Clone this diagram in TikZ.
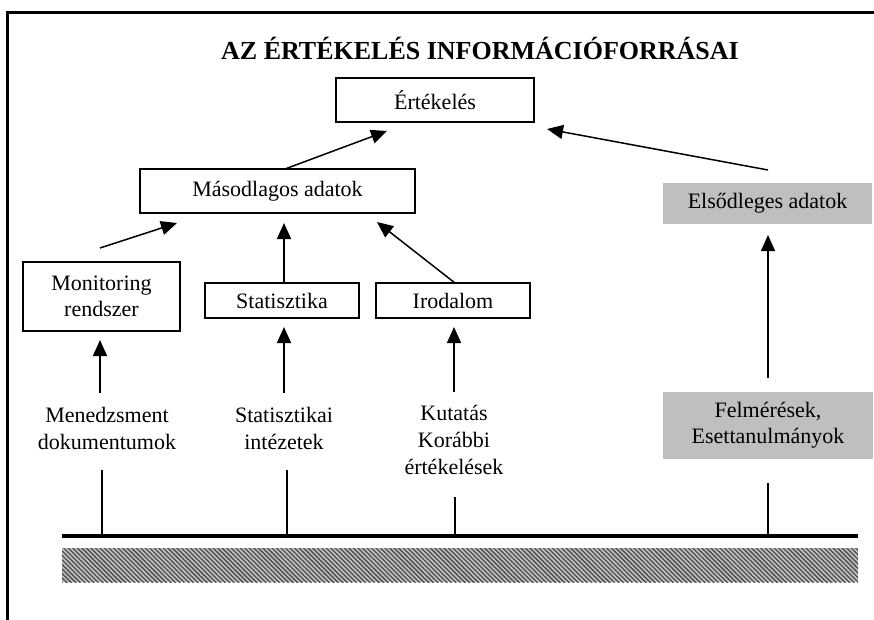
\documentclass[tikz,border=0pt]{standalone}
\usepackage{fontspec}
\setmainfont{Liberation Serif}
\usetikzlibrary{arrows.meta,patterns.meta}
\begin{document}
\begin{tikzpicture}[x=1pt,y=-1pt,
  box/.style={draw,line width=1.2pt,minimum height=44pt,font=\fontsize{22}{26}\selectfont,align=center,inner sep=0pt},
  shaded/.style={fill=black!25,minimum height=41pt,font=\fontsize{22}{26}\selectfont,align=center,inner sep=0pt},
  label/.style={font=\fontsize{22}{27}\selectfont,align=center,inner sep=0pt},
  arr/.style={line width=1.5pt,-{Triangle[length=16pt,width=14pt]}},
  stem/.style={line width=1.2pt}]
\useasboundingbox (0,0) rectangle (874,620);
% frame
\draw[line width=3pt] (7,620) -- (7,12.5) -- (874,12.5);
% title
\node[font=\fontsize{26}{30}\selectfont\bfseries] (title) at (480,48) {AZ ÉRTÉKELÉS INFORMÁCIÓFORRÁSAI};
% boxes
\node[box,minimum width=198pt] (ert) at (435,100) {Értékelés};
\node[box,minimum width=275pt] (mas) at (277.5,191) {Másodlagos adatok};
\node[shaded,minimum width=209pt] (elso) at (767.5,203.5) {Elsődleges adatok};
\node[box,minimum width=157pt,minimum height=69pt] (mon) at (101.5,296.5) {Monitoring\\rendszer};
\node[box,minimum width=154pt,minimum height=35pt] (stat) at (282,300.5) {Statisztika};
\node[box,minimum width=154pt,minimum height=35pt] (irod) at (453,300.5) {Irodalom};
\node[shaded,minimum width=210pt,minimum height=67pt] (felm) at (768,425.5) {Felmérések,\\Esettanulmányok};
% source labels
\node[label] (men) at (107,428) {Menedzsment\\dokumentumok};
\node[label] (sti) at (284,428) {Statisztikai\\intézetek};
\node[label] (kut) at (454,440) {Kutatás\\Korábbi\\értékelések};
% arrow end points
\coordinate (masT) at (285,169);  \coordinate (ertL) at (387,131);
\coordinate (elsoT) at (768,170); \coordinate (ertR) at (547,129);
\coordinate (monT) at (100,248);  \coordinate (masL) at (177,223);
\coordinate (statT) at (284,283); \coordinate (masM) at (284,223);
\coordinate (irodT) at (455,283); \coordinate (masR) at (377,222);
\coordinate (menT) at (100,393);  \coordinate (monB) at (100,340);
\coordinate (stiT) at (284,393);  \coordinate (statB) at (284,327);
\coordinate (kutT) at (454,392);  \coordinate (irodB) at (454,327);
\coordinate (felmT) at (768,378); \coordinate (elsoB) at (768,235);
% arrows
\draw[arr] (masT) -- (ertL);
\draw[arr] (elsoT) -- (ertR);
\draw[arr] (monT) -- (masL);
\draw[arr] (statT) -- (masM);
\draw[arr] (irodT) -- (masR);
\draw[arr] (menT) -- (monB);
\draw[arr] (stiT) -- (statB);
\draw[arr] (kutT) -- (irodB);
\draw[arr] (felmT) -- (elsoB);
% base line with stems
\coordinate (bL) at (62,536); \coordinate (bR) at (858,536);
\coordinate (s1) at (102,470); \coordinate (b1) at (102,536);
\coordinate (s2) at (287,470); \coordinate (b2) at (287,536);
\coordinate (s3) at (455,497); \coordinate (b3) at (455,536);
\coordinate (s4) at (768,483); \coordinate (b4) at (768,536);
\draw[stem] (s1) -- (b1);
\draw[stem] (s2) -- (b2);
\draw[stem] (s3) -- (b3);
\draw[stem] (s4) -- (b4);
\draw[line width=4.5pt] (bL) -- (bR);
% hatched ground
\fill[black!25] (62,548) rectangle (858,582);
\fill[pattern={Lines[angle=-45,distance=3.2pt,line width=1.3pt]},pattern color=black!70] (62,548) rectangle (858,582);
\end{tikzpicture}
\end{document}
